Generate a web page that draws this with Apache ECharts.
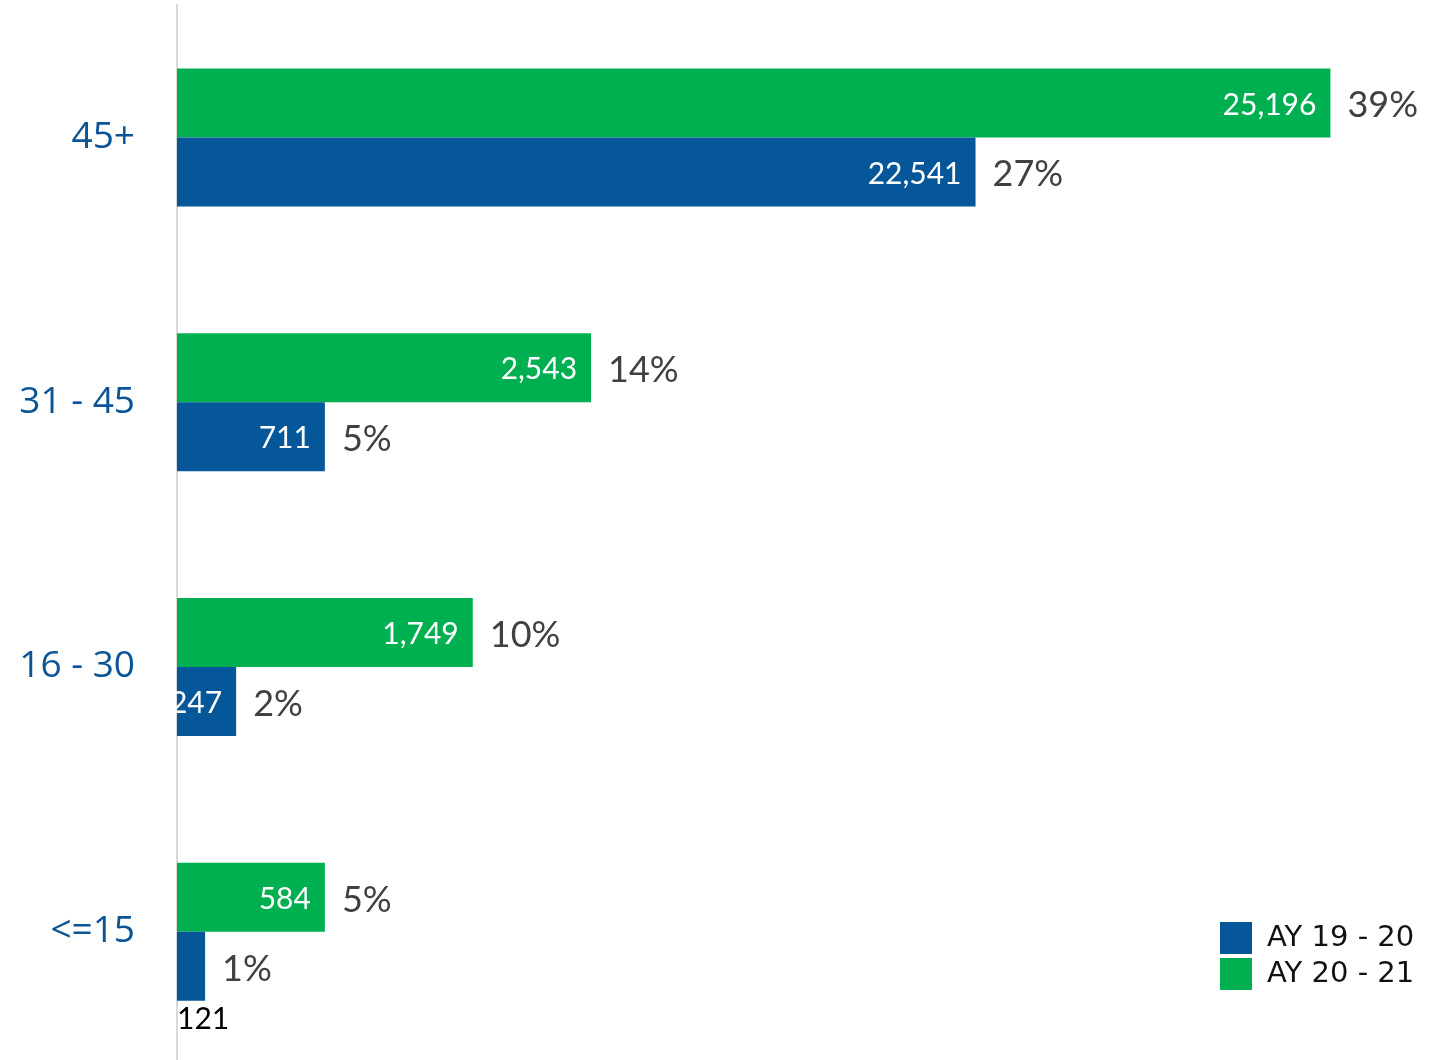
<!DOCTYPE html>
<html>
<head>
<meta charset="utf-8">
<script src="https://cdn.jsdelivr.net/npm/echarts@6/dist/echarts.min.js"></script>
<style>html,body{margin:0;padding:0;background:#fff}#c{width:1448px;height:1060px}</style>
</head>
<body>
<div id="c"></div>
<script>
var categories = ['45+', '31 - 45', '16 - 30', '<=15'];
var seriesNames = ['AY 19 - 20', 'AY 20 - 21'];
var pct1920 = [27, 5, 2, 0.95];
var count1920 = [22541, 711, 247, 121];
var pct2021 = [39, 14, 10, 5];
var count2021 = [25196, 2543, 1749, 584];

var BLUE = '#05579A', GREEN = '#00B050';
function fmt(n) { return n.toLocaleString('en-US'); }

function mainData(pcts, counts, special) {
  return pcts.map(function (p, i) {
    var item = { value: p, count: counts[i] };
    if (special && counts[i] < 200) {
      item.label = { position: [0, '100%'], color: '#000', align: 'left', verticalAlign: 'top', offset: [0, 4] };
    }
    return item;
  });
}
function mainSeries(name, pcts, counts, color, stack, special) {
  return {
    name: name, type: 'bar', stack: stack, stackStrategy: 'all',
    barWidth: 69, barGap: 0,
    itemStyle: { color: color },
    data: mainData(pcts, counts, special),
    label: {
      show: true, position: 'insideRight', distance: 14, offset: [0, 2],
      color: '#fff', fontFamily: 'Lato', fontSize: 30,
      formatter: function (p) { return fmt(p.data.count); }
    },
    emphasis: { disabled: true }, silent: true
  };
}
function pctSeries(pcts, stack) {
  return {
    type: 'bar', stack: stack, stackStrategy: 'all',
    barWidth: 69, barGap: 0,
    itemStyle: { color: 'transparent' },
    data: pcts.map(function (p) { return { value: 0, pct: p }; }),
    label: {
      show: true, position: 'right', distance: 17, offset: [0, 3],
      color: '#404040', fontFamily: 'Lato', fontSize: 36,
      formatter: function (p) { return Math.round(p.data.pct) + '%'; }
    },
    emphasis: { disabled: true }, silent: true
  };
}

var chart = echarts.init(document.getElementById('c'));
chart.setOption({
  animation: false,
  backgroundColor: '#fff',
  grid: { left: 177, top: 5, width: 1183, height: 1059, outerBoundsMode: 'none', containLabel: false },
  legend: {
    data: seriesNames, orient: 'vertical', left: 1220, top: 922,
    padding: 0, itemWidth: 32, itemHeight: 32, itemGap: 4,
    icon: 'rect',
    textStyle: { fontFamily: 'DejaVu Sans', fontSize: 29, color: '#111', padding: [0, 0, 0, 10] }
  },
  xAxis: {
    type: 'value', min: 0, max: 40,
    show: false
  },
  yAxis: {
    type: 'category', data: categories, inverse: true,
    axisLine: { show: true, lineStyle: { color: '#D9D9D9', width: 2 } },
    axisTick: { show: false },
    axisLabel: { margin: 42, color: '#0B5495', fontFamily: 'Open Sans', fontSize: 37, padding: [12, 0, 0, 0] }
  },
  series: [
    mainSeries(seriesNames[1], pct2021, count2021, GREEN, 'g', false),
    pctSeries(pct2021, 'g'),
    mainSeries(seriesNames[0], pct1920, count1920, BLUE, 'b', true),
    pctSeries(pct1920, 'b')
  ]
});
</script>
</body>
</html>
